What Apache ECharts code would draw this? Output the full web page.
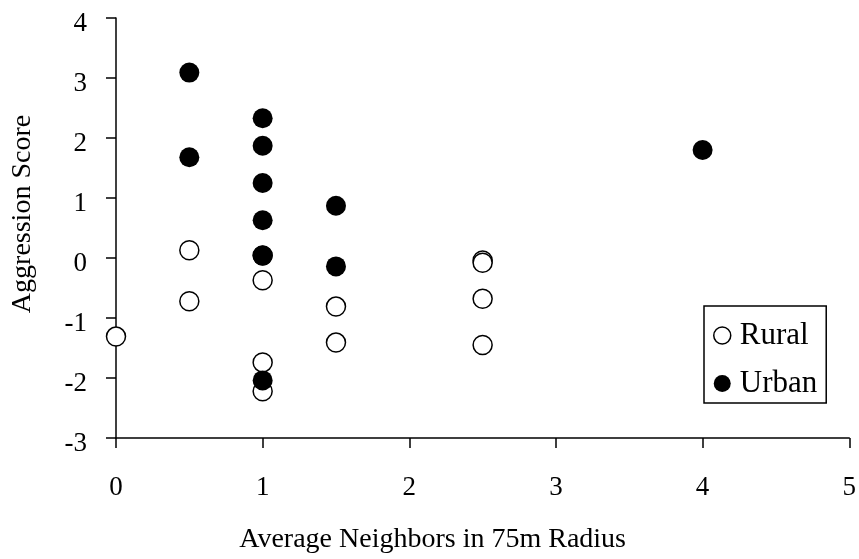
<!DOCTYPE html>
<html><head><meta charset="utf-8">
<script src="https://cdn.jsdelivr.net/npm/echarts@6/dist/echarts.min.js"></script>
<style>html,body{margin:0;padding:0;background:#fff}#c{width:859px;height:559px}</style>
</head><body><div id="c"></div>
<script>
const xTicks = [0, 1, 2, 3, 4, 5];
const yTicks = [-3, -2, -1, 0, 1, 2, 3, 4];
const ruralX = [0, 0.5, 0.5, 1, 1, 1, 1, 1.5, 1.5, 2.5, 2.5, 2.5, 2.5];
const ruralY = [-1.31, 0.13, -0.72, 0.04, -0.37, -1.74, -2.22, -0.81, -1.41, -0.04, -0.08, -0.68, -1.45];
const urbanX = [0.5, 0.5, 1, 1, 1, 1, 1, 1, 1.5, 1.5, 4];
const urbanY = [3.09, 1.68, 2.33, 1.87, 1.25, 0.63, 0.04, -2.04, 0.87, -0.14, 1.80];

const font = '"Liberation Serif", "Times New Roman", serif';
const chart = echarts.init(document.getElementById('c'));
chart.setOption({
  animation: false,
  backgroundColor: '#fff',
  grid: { left: 116, right: 9, top: 18, bottom: 121 },
  xAxis: {
    type: 'value', min: xTicks[0], max: xTicks[xTicks.length - 1], interval: 1,
    name: 'Average Neighbors in 75m Radius', nameLocation: 'middle', nameGap: 88,
    nameTextStyle: { fontFamily: font, fontSize: 28, color: '#000', padding: [0, 100, 0, 0] },
    axisLine: { show: true, onZero: false, lineStyle: { color: '#000', width: 1.5 } },
    axisTick: { show: true, inside: false, length: 10, lineStyle: { color: '#000', width: 1.5 } },
    axisLabel: { fontFamily: font, fontSize: 27, color: '#000', margin: 36 },
    splitLine: { show: false }
  },
  yAxis: {
    type: 'value', min: yTicks[0], max: yTicks[yTicks.length - 1], interval: 1,
    name: 'Aggression Score', nameLocation: 'middle', nameGap: 79,
    nameTextStyle: { fontFamily: font, fontSize: 28, color: '#000', padding: [0, 0, 0, 28] },
    axisLine: { show: true, onZero: false, lineStyle: { color: '#000', width: 1.5 } },
    axisTick: { show: true, inside: false, length: 10, lineStyle: { color: '#000', width: 1.5 } },
    axisLabel: { fontFamily: font, fontSize: 27, color: '#000', margin: 29, verticalAlign: 'top', lineHeight: 12 },
    splitLine: { show: false }
  },
  legend: {
    orient: 'vertical', left: 704, top: 306,
    padding: [14, 9, 4, 9],
    itemGap: 17, itemWidth: 17, itemHeight: 17,
    borderColor: '#000', borderWidth: 1.5, backgroundColor: '#fff',
    textStyle: { fontFamily: font, fontSize: 31, color: '#000', lineHeight: 30, padding: [0, 0, 0, 4] },
    data: [
      { name: 'Rural', icon: 'circle', itemStyle: { color: '#fff', borderColor: '#000', borderWidth: 1.5 } },
      { name: 'Urban', icon: 'circle', itemStyle: { color: '#000' } }
    ]
  },
  series: [
    {
      name: 'Rural', type: 'scatter', symbol: 'circle', symbolSize: 19,
      itemStyle: { color: '#fff', borderColor: '#000', borderWidth: 1.5, opacity: 1 },
      data: ruralX.map((x, i) => [x, ruralY[i]]), z: 2
    },
    {
      name: 'Urban', type: 'scatter', symbol: 'circle', symbolSize: 20,
      itemStyle: { color: '#000', opacity: 1 },
      data: urbanX.map((x, i) => [x, urbanY[i]]), z: 3
    }
  ]
});
</script></body></html>
